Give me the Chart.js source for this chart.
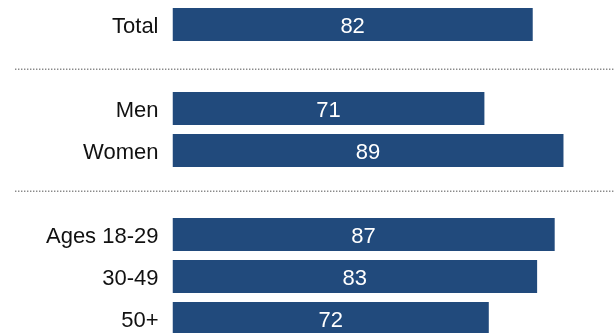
<!DOCTYPE html>
<html>
<head>
<meta charset="utf-8">
<script src="https://cdn.jsdelivr.net/npm/chart.js@4/dist/chart.umd.min.js"></script>
<style>
  html, body { margin: 0; padding: 0; background: #fff; overflow: hidden; }
  #wrap { width: 615px; height: 340px; }
</style>
</head>
<body>
<div id="wrap"><canvas id="c" width="615" height="340"></canvas></div>
<script>
// Groups are separated by empty rows; dotted rules are drawn across those rows.
const categories = ['Total', '', 'Men', 'Women', '', 'Ages 18-29', '30-49', '50+'];
const values = [82, null, 71, 89, null, 87, 83, 72];
const separatorRows = [1, 4];
const separatorNudge = [2, -2];

const barColor = '#214a7c';
const fontFamily = '"Liberation Sans", Arial, Helvetica, sans-serif';
const fontSize = 22;
const baselineShift = 8.6;

// Category names, right-aligned against the start of the bars
const categoryLabels = {
  id: 'categoryLabels',
  afterDraw(chart) {
    const ctx = chart.ctx;
    const y = chart.scales.y;
    ctx.save();
    ctx.fillStyle = '#111';
    ctx.font = fontSize + 'px ' + fontFamily;
    ctx.textAlign = 'right';
    ctx.textBaseline = 'alphabetic';
    categories.forEach((name, i) => {
      if (!name) return;
      ctx.fillText(name, chart.chartArea.left - 14, y.getPixelForValue(i) + baselineShift);
    });
    ctx.restore();
  }
};

const valueLabels = {
  id: 'valueLabels',
  afterDatasetsDraw(chart) {
    const ctx = chart.ctx;
    const meta = chart.getDatasetMeta(0);
    ctx.save();
    ctx.fillStyle = '#ffffff';
    ctx.font = fontSize + 'px ' + fontFamily;
    ctx.textAlign = 'center';
    ctx.textBaseline = 'alphabetic';
    meta.data.forEach((bar, i) => {
      const v = values[i];
      if (v === null) return;
      const cx = (bar.x + bar.base) / 2;
      ctx.fillText(String(v), cx, bar.y + baselineShift);
    });
    ctx.restore();
  }
};

const separators = {
  id: 'separators',
  beforeDatasetsDraw(chart) {
    const ctx = chart.ctx;
    const y = chart.scales.y;
    ctx.save();
    ctx.strokeStyle = '#8a8a8a';
    ctx.lineWidth = 1.5;
    ctx.setLineDash([1.4, 1.6]);
    separatorRows.forEach((row, k) => {
      const py = Math.round(y.getPixelForValue(row) + separatorNudge[k]) + 0.25;
      ctx.beginPath();
      ctx.moveTo(15, py);
      ctx.lineTo(chart.width, py);
      ctx.stroke();
    });
    ctx.restore();
  }
};

new Chart(document.getElementById('c'), {
  type: 'bar',
  data: {
    labels: categories,
    datasets: [{
      data: values,
      backgroundColor: barColor,
      borderWidth: 0,
      categoryPercentage: 1,
      barPercentage: 33 / 42
    }]
  },
  options: {
    indexAxis: 'y',
    responsive: false,
    animation: false,
    devicePixelRatio: 1,
    layout: { padding: { top: 3.5, bottom: 0.5, right: 3.2, left: 172.5 } },
    plugins: {
      legend: { display: false },
      tooltip: { enabled: false }
    },
    scales: {
      x: { display: false, min: 0, max: 100 },
      y: { display: false }
    }
  },
  plugins: [separators, valueLabels, categoryLabels]
});
</script>
</body>
</html>
